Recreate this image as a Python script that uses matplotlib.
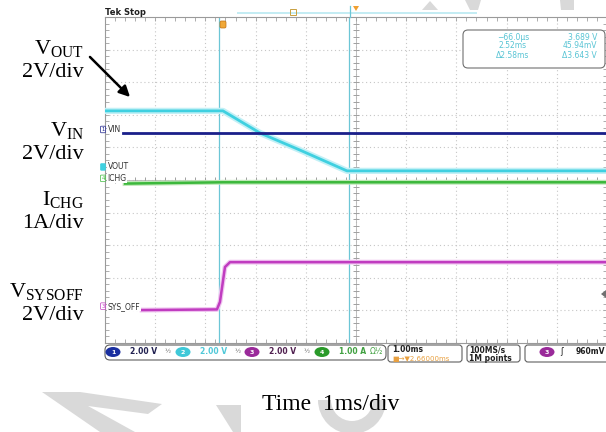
import numpy as np
import matplotlib.pyplot as plt
from matplotlib.patches import FancyBboxPatch, Polygon, Rectangle, Ellipse, Wedge

plt.rcParams['mathtext.fontset'] = 'custom'
plt.rcParams['mathtext.rm'] = 'Liberation Serif'
plt.rcParams['mathtext.it'] = 'Liberation Serif:italic'

W, H = 606, 432

# scope screen is 10 x 10 divisions: time in ms from left edge, level in div from bottom
vout_t = [0.0, 2.35, 3.09, 3.88, 4.82, 10.0]
vout_v = [7.12, 7.12, 6.44, 5.92, 5.28, 5.28]
vin_t = [0.35, 10.0]
vin_v = [6.43, 6.43]
ichg_t = [0.40, 2.35, 10.0]
ichg_v = [4.89, 4.93, 4.93]
sys_t = [0.74, 2.23, 2.29, 2.39, 2.49, 10.0]
sys_v = [1.01, 1.03, 1.26, 2.33, 2.48, 2.48]
cursor_t = [2.27, 4.86]

trace_names = ["VIN", "VOUT", "ICHG", "SYS_OFF"]
trace_nums = ["1", "2", "4", "3"]
trace_colors = ["#1a1f8a", "#3fd0e0", "#3cb83c", "#c03cc0"]
label_level = [6.43, 5.28, 4.93, 1.01]

side_names = [r"$\mathrm{V_{OUT}}$", r"$\mathrm{V_{IN}}$", r"$\mathrm{I_{CHG}}$", r"$\mathrm{V_{SYSOFF}}$"]
side_scales = ["2V/div", "2V/div", "1A/div", "2V/div"]
side_base = [54, 136, 205, 297]

readout_time = ["\u221266.0\u00b5s", "2.52ms", "\u03942.58ms"]
readout_volt = ["3.689 V", "45.94mV", "\u03943.643 V"]

ch_scales = ["2.00 V", "2.00 V", "2.00 V", "1.00 A"]
ch_nums = ["1", "2", "3", "4"]
ch_colors = ["#1a2fa0", "#3fc8d8", "#9a2a9a", "#2a9a2a"]
ch_text_colors = ["#202050", "#50c8d8", "#502050", "#40a040"]
ch_x = [113, 183, 252, 322]

fig = plt.figure(figsize=(W / 100, H / 100), dpi=100)

# background layer: faint watermark pieces outside the scope shot
bg = fig.add_axes([0, 0, 1, 1])
bg.set_xlim(0, W)
bg.set_ylim(H, 0)
bg.axis('off')
bg.set_zorder(0)
wm = '#d9d9d9'
bg.add_patch(Polygon([(42, 392), (80, 392), (162, 404), (148, 414), (88, 406), (135, 432), (100, 432)], fc=wm, ec='none'))
bg.add_patch(Polygon([(216, 405), (241, 405), (241, 432), (233, 432)], fc=wm, ec='none'))
bg.add_patch(Wedge((352, 400), 34, 0, 180, width=13, fc=wm, ec='none', transform=bg.transData))
bg.add_patch(Polygon([(422, 10), (430, 1), (438, 10)], fc=wm, ec='none'))
bg.add_patch(Polygon([(465, 0), (481, 0), (478, 10), (470, 10)], fc=wm, ec='none'))
bg.add_patch(Polygon([(560, 0), (574, 0), (574, 10), (561, 10)], fc=wm, ec='none'))

# scope graticule
ax = fig.add_axes([105 / W, (H - 343) / H, 502 / W, 326 / H])
ax.set_zorder(1)
ax.set_xlim(0, 10)
ax.set_ylim(0, 10)
for i in range(1, 10):
    ax.axvline(i, ls=(0, (1, 2.5)), color='#c6c6c6', lw=0.8, zorder=1)
    ax.axhline(i, ls=(0, (1, 2.5)), color='#c6c6c6', lw=0.8, zorder=1)
ax.axvline(5, color='#b4b4b4', lw=0.6, zorder=1)
ax.axhline(5, color='#b4b4b4', lw=0.6, zorder=1)
fine = np.arange(0, 10.01, 0.2)
ax.plot(np.full(fine.size, 5), fine, ls='none', marker='_', ms=4, mew=0.7, color='#a0a0a0', zorder=1)
ax.plot(fine, np.full(fine.size, 5), ls='none', marker='|', ms=4, mew=0.7, color='#a0a0a0', zorder=1)
ax.set_xticks(np.arange(0, 10.01, 1))
ax.set_yticks(np.arange(0, 10.01, 1))
ax.set_xticks(fine, minor=True)
ax.set_yticks(fine, minor=True)
ax.tick_params(which='both', direction='in', length=3, width=0.6, color='#a0a0a0',
               top=True, right=True, labelbottom=False, labelleft=False)
for s in ax.spines.values():
    s.set_color('#9a9a9a')
    s.set_linewidth(0.8)

for t in cursor_t:
    ax.axvline(t, color='#6cc6d6', lw=0.9, zorder=2)

ax.plot(vout_t, vout_v, color='#c2f0f6', lw=4.5, zorder=3)
ax.plot(vout_t, vout_v, color=trace_colors[1], lw=2.0, zorder=4)
ax.plot(vin_t, vin_v, color=trace_colors[0], lw=2.0, zorder=4)
ax.plot(ichg_t, ichg_v, color='#bfe8b8', lw=3.5, zorder=3)
ax.plot(ichg_t, ichg_v, color=trace_colors[2], lw=1.8, zorder=4)
ax.plot(sys_t, sys_v, color='#f0c4f0', lw=3.5, zorder=3)
ax.plot(sys_t, sys_v, color=trace_colors[3], lw=1.8, zorder=4)

for name, num, col, lvl in zip(trace_names, trace_nums, trace_colors, label_level):
    ax.text(0.05, lvl + 0.12, name, fontsize=5.5, color='#303030', va='center', ha='left',
            zorder=5, bbox=dict(fc='white', ec='none', pad=0.3))
    face = col if name == "VOUT" else 'white'
    ax.text(-0.04, lvl + 0.12, num, fontsize=3.8, color=col, va='center', ha='center',
            clip_on=False, zorder=5, bbox=dict(boxstyle='round,pad=0.15', fc=face, ec=col, lw=0.5))

# overlay layer: scope chrome and annotations
ov = fig.add_axes([0, 0, 1, 1])
ov.set_xlim(0, W)
ov.set_ylim(H, 0)
ov.axis('off')
ov.set_zorder(2)
ov.patch.set_visible(False)

ov.text(105, 15, "Tek Stop", fontsize=6, fontweight='bold', color='#202020', va='baseline')
ov.add_patch(Rectangle((237, 11.5), 240, 2.5, fc='#c4ecf3', ec='none'))
ov.add_patch(Rectangle((290, 9), 6, 6, fc='none', ec='#c8a040', lw=0.7))
ov.add_patch(Polygon([(353, 6), (359, 6), (356, 11)], fc='#f0a030', ec='none'))
ov.add_patch(FancyBboxPatch((220, 21), 6, 7, boxstyle='round,pad=0,rounding_size=1.5', fc='#f0a838', ec='#c07010', lw=0.5))
ov.plot([350, 350], [6, 17], color='#6cc6d6', lw=0.9)
ov.add_patch(Polygon([(606, 290), (601, 294), (606, 298)], fc='#707070', ec='none'))

# cursor readout
ov.add_patch(FancyBboxPatch((463, 30), 142, 38, boxstyle='round,pad=0,rounding_size=5', fc='white', ec='#707070', lw=0.8))
for i in range(3):
    ov.text(513, 37 + 9 * i, readout_time[i], fontsize=5.5, color='#58c4d4', ha='center', va='center')
    ov.text(597, 37 + 9 * i, readout_volt[i], fontsize=5.5, color='#58c4d4', ha='right', va='center')

# status bar
sb_y = 352
ov.add_patch(FancyBboxPatch((105, 345), 281, 15, boxstyle='round,pad=0,rounding_size=5', fc='white', ec='#606060', lw=0.8))
for sc, n, c, tc, x in zip(ch_scales, ch_nums, ch_colors, ch_text_colors, ch_x):
    ov.add_patch(Ellipse((x, sb_y), 15, 10, fc=c, ec='none'))
    ov.text(x, sb_y, n, fontsize=4.5, color='white', ha='center', va='center', fontweight='bold')
    ov.text(x + 17, sb_y, sc, fontsize=5.5, color=tc, ha='left', va='center', fontweight='bold')
for x in [168, 238, 307]:
    ov.text(x, sb_y, "\u00bd", fontsize=4.5, color='#606060', ha='center', va='center')
ov.text(370, sb_y, "\u03a9\u00bd", fontsize=5.5, color='#40a040', ha='left', va='center')
ov.add_patch(FancyBboxPatch((388, 345), 74, 17, boxstyle='round,pad=0,rounding_size=3', fc='white', ec='#606060', lw=0.8))
ov.text(392, 350, "1.00ms", fontsize=5.5, color='#202020', ha='left', va='center', fontweight='bold')
ov.text(392, 358.5, "\u25a0\u2192\u25bc2.66000ms", fontsize=5, color='#e8a040', ha='left', va='center')
ov.add_patch(FancyBboxPatch((467, 345), 53, 17, boxstyle='round,pad=0,rounding_size=3', fc='white', ec='#606060', lw=0.8))
ov.text(469, 350, "100MS/s", fontsize=5.5, color='#202020', ha='left', va='center', fontweight='bold')
ov.text(469, 358.5, "1M points", fontsize=5.5, color='#202020', ha='left', va='center', fontweight='bold')
ov.add_patch(FancyBboxPatch((525, 345), 90, 17, boxstyle='round,pad=0,rounding_size=3', fc='white', ec='#606060', lw=0.8))
ov.add_patch(Ellipse((547, sb_y), 15, 10, fc='#9a2a9a', ec='none'))
ov.text(547, sb_y, "3", fontsize=4.5, color='white', ha='center', va='center', fontweight='bold')
ov.text(562, sb_y, "\u0283", fontsize=6, color='#202020', ha='center', va='center')
ov.text(605, sb_y, "960mV", fontsize=5.5, color='#202020', ha='right', va='center', fontweight='bold')

# left annotations
for name, scale, yb in zip(side_names, side_scales, side_base):
    ov.text(84, yb, name, fontsize=16, ha='right', va='baseline', color='black')
    ov.text(84, yb + 23, scale, fontsize=16, ha='right', va='baseline', color='black',
            family='Liberation Serif')
ov.annotate('', xy=(132, 99), xytext=(88, 55),
            arrowprops=dict(arrowstyle='-|>', color='black', lw=1.8, mutation_scale=16))

ov.text(331, 410, "Time  1ms/div", fontsize=17, ha='center', va='baseline', color='black',
        family='Liberation Serif')

fig.savefig("out.png", dpi=100)
